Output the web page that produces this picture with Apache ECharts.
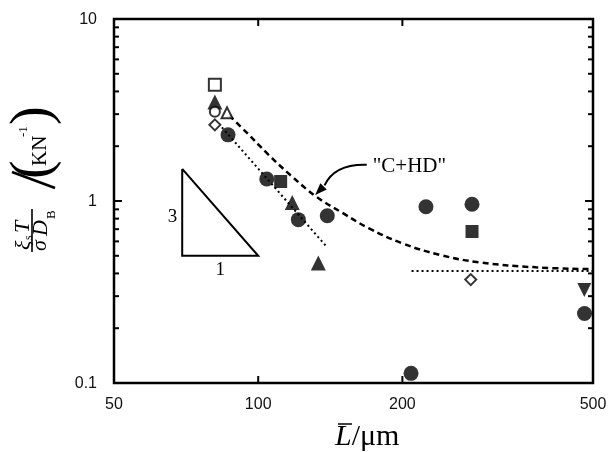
<!DOCTYPE html>
<html>
<head>
<meta charset="utf-8">
<script src="https://cdn.jsdelivr.net/npm/echarts@6/dist/echarts.min.js"></script>
<style>
  html, body { margin: 0; padding: 0; background: #fff; }
  #chart { width: 612px; height: 452px; }
</style>
</head>
<body>
<div id="chart"></div>
<script>
// Axis ranges and tick values
const xRange = [50, 500];
const yRange = [0.1, 10];
const xTicks = [50, 100, 200, 500];
const xTickLabels = ['50', '100', '200', '500'];
const yTicks = [0.1, 1, 10];
const yTickLabels = ['0.1', '1', '10'];
const yMinorTicks = [0.2, 0.3, 0.4, 0.5, 0.6, 0.7, 0.8, 0.9, 2, 3, 4, 5, 6, 7, 8, 9];

// Measured points, grouped by marker
const filledCircle = [[86.5, 2.31], [104.2, 1.32], [121.3, 0.79], [139.4, 0.83], [224, 0.93], [279.5, 0.96], [208.5, 0.113], [480, 0.241]];
const filledSquare = [[111.4, 1.28], [279.5, 0.68]];
const filledTriUp = [[81.2, 3.5], [117.8, 0.98], [133.5, 0.457]];
const filledTriDown = [[479.6, 0.324]];
const openSquare = [[81.2, 4.35]];
const openCircle = [[81.2, 3.09]];
const openTriangle = [[86.1, 3.05]];
const openDiamond = [[81.2, 2.62], [277.8, 0.37]];

// Model curves
const chdCurve = [[87, 2.95], [95, 2.35], [105, 1.8], [117, 1.38], [132, 1.06], [150, 0.86], [170, 0.71], [200, 0.585], [240, 0.505], [290, 0.46], [380, 0.432], [500, 0.422]];
const slopeLine = [[84, 2.54], [139.4, 0.556]];
const plateauLine = [[209, 0.412], [500, 0.412]];

// Slope-3 guide triangle (top, bottom-left, bottom-right)
const slopeTriangle = [[69.4, 1.5], [69.4, 0.5], [100, 0.5], [69.4, 1.5]];

// Annotation arrow for the "C+HD" curve
const arrowTail = [168.5, 1.58];
const arrowTip = [131.5, 1.08];

const serif = '"Liberation Serif", "DejaVu Serif", serif';
const sans = '"Liberation Sans", Arial, sans-serif';

const chart = echarts.init(document.getElementById('chart'), null, { renderer: 'canvas' });

function scatter(data, symbol, size, open, rotate) {
  return {
    type: 'scatter',
    data: data,
    symbol: symbol,
    symbolSize: size,
    symbolRotate: rotate || 0,
    z: 5,
    itemStyle: open
      ? { color: '#fff', borderColor: '#000', borderWidth: 2 }
      : { color: '#000', borderColor: '#000', borderWidth: 0 }
  };
}

function line(data, dash, width, smooth) {
  return {
    type: 'line',
    data: data,
    symbol: 'none',
    smooth: smooth || false,
    z: 3,
    lineStyle: { color: '#000', width: width, type: dash, cap: 'butt' }
  };
}

// Ticks, tick labels and annotations placed through the axis scales
function renderFrame(params, api) {
  const kids = [];
  const stroke = { stroke: '#000', lineWidth: 2 };
  yTicks.forEach(function (v, i) {
    const l = api.coord([xRange[0], v]);
    const r = api.coord([xRange[1], v]);
    kids.push({ type: 'line', shape: { x1: l[0], y1: l[1], x2: l[0] + 8, y2: l[1] }, style: stroke });
    kids.push({ type: 'line', shape: { x1: r[0], y1: r[1], x2: r[0] - 8, y2: r[1] }, style: stroke });
    kids.push({ type: 'text', x: l[0] - 17, y: l[1] + 1,
      style: { text: yTickLabels[i], fontSize: 16, fontFamily: sans, fill: '#111', align: 'right', verticalAlign: 'middle' } });
  });
  yMinorTicks.forEach(function (v) {
    const l = api.coord([xRange[0], v]);
    const r = api.coord([xRange[1], v]);
    kids.push({ type: 'line', shape: { x1: l[0], y1: l[1], x2: l[0] + 5, y2: l[1] }, style: stroke });
    kids.push({ type: 'line', shape: { x1: r[0], y1: r[1], x2: r[0] - 5, y2: r[1] }, style: stroke });
  });
  xTicks.forEach(function (v, i) {
    const b = api.coord([v, yRange[0]]);
    const t = api.coord([v, yRange[1]]);
    kids.push({ type: 'line', shape: { x1: b[0], y1: b[1], x2: b[0], y2: b[1] - 7 }, style: stroke });
    kids.push({ type: 'line', shape: { x1: t[0], y1: t[1], x2: t[0], y2: t[1] + 7 }, style: stroke });
    kids.push({ type: 'text', x: b[0], y: b[1] + 14,
      style: { text: xTickLabels[i], fontSize: 16, fontFamily: sans, fill: '#111', align: 'center', verticalAlign: 'top' } });
  });

  // slope triangle labels
  const pTop = api.coord(slopeTriangle[0]);
  const pBL = api.coord(slopeTriangle[1]);
  const pBR = api.coord(slopeTriangle[2]);
  kids.push({ type: 'text', x: pBL[0] - 5, y: (pTop[1] + pBL[1]) / 2 + 5,
    style: { text: '3', fontSize: 19, fontFamily: serif, fill: '#000', align: 'right', verticalAlign: 'middle' } });
  kids.push({ type: 'text', x: (pBL[0] + pBR[0]) / 2, y: pBL[1] + 5,
    style: { text: '1', fontSize: 19, fontFamily: serif, fill: '#000', align: 'center', verticalAlign: 'top' } });

  // "C+HD" arrow
  const s = api.coord(arrowTail);
  const t = api.coord(arrowTip);
  const dx = -0.7, dy = 0.714;
  const hl = 12, hw = 4.5;
  const bx = t[0] - hl * dx, by = t[1] - hl * dy;
  kids.push({ type: 'bezierCurve',
    shape: { x1: s[0], y1: s[1], cpx1: s[0] - 32, cpy1: s[1] - 1, x2: bx + 1, y2: by - 1 },
    style: { stroke: '#000', lineWidth: 2, fill: null } });
  kids.push({ type: 'polygon',
    shape: { points: [[t[0], t[1]], [bx + hw * 0.714, by + hw * 0.7], [bx - hw * 0.714, by - hw * 0.7]] },
    style: { fill: '#000' } });
  kids.push({ type: 'text', x: s[0] + 6, y: s[1] + 2,
    style: { text: '"C+HD"', fontSize: 21, fontFamily: serif, fill: '#000', align: 'left', verticalAlign: 'middle' } });

  return { type: 'group', children: kids };
}

function ytext(text, x, y, size, italic, align) {
  return { type: 'text', x: x, y: y,
    style: { text: text, fontSize: size, fontStyle: italic ? 'italic' : 'normal', fontFamily: serif, fill: '#000',
      align: align || 'left', verticalAlign: 'middle' } };
}

const option = {
  animation: false,
  backgroundColor: '#fff',
  grid: { left: 114, top: 19, right: 19, bottom: 69, show: true, borderColor: '#000', borderWidth: 2.5, backgroundColor: 'transparent' },
  xAxis: {
    type: 'log', logBase: 10, min: xRange[0], max: xRange[1],
    axisLine: { show: false }, axisTick: { show: false }, axisLabel: { show: false }, splitLine: { show: false }
  },
  yAxis: {
    type: 'log', logBase: 10, min: yRange[0], max: yRange[1],
    axisLine: { show: false }, axisTick: { show: false }, axisLabel: { show: false }, splitLine: { show: false }
  },
  graphic: [
    {
      // rotated y-axis title: (xi_s T)/(sigma D_B) / (KN^-1)
      type: 'group', x: 32, y: 252, rotation: Math.PI / 2,
      children: [
        ytext('ξ', 2, -8, 22, true),
        ytext('s', 12, -3, 12, false),
        ytext('T', 19, -9, 22, true),
        { type: 'line', shape: { x1: 0, y1: 0, x2: 43, y2: 0 }, style: { stroke: '#000', lineWidth: 1.6 } },
        ytext('σ', 1, 8, 22, true),
        ytext('D', 16, 9, 22, true),
        ytext('B', 33, 20, 13, false),
        { type: 'line', shape: { x1: 64, y1: 23, x2: 80, y2: -20 }, style: { stroke: '#000', lineWidth: 2.5 } },
        ytext('(', 73, 2, 56, false),
        ytext('KN', 86, 8, 21, false),
        ytext('-1', 115, -8, 13, false),
        ytext(')', 127, 2, 56, false)
      ]
    },
    {
      // x-axis title: mean length over micrometres
      type: 'group', x: 335, y: 437,
      children: [
        { type: 'text', x: 0, y: 0, style: { text: '{i|L}/μm', fontSize: 30, fontFamily: serif, fill: '#000', align: 'left', verticalAlign: 'middle',
          rich: { i: { fontSize: 30, fontStyle: 'italic', fontFamily: serif, fill: '#000' } } } },
        { type: 'line', shape: { x1: 3, y1: -13, x2: 17, y2: -13 }, style: { stroke: '#000', lineWidth: 1.5 } }
      ]
    }
  ],
  series: [
    line(chdCurve, [6, 4], 2.5, 0.4),
    line(slopeLine, [2, 3], 2, false),
    line(plateauLine, [2, 3], 2, false),
    {
      type: 'line', data: slopeTriangle, symbol: 'none', z: 3,
      lineStyle: { color: '#000', width: 2, join: 'miter' }
    },
    scatter(filledCircle, 'circle', 15, false),
    scatter(filledSquare, 'rect', 13, false),
    scatter(filledTriUp, 'triangle', 15, false),
    scatter(filledTriDown, 'triangle', 14, false, 180),
    scatter(openSquare, 'rect', 12, true),
    scatter(openCircle, 'circle', 10, true),
    scatter(openTriangle, 'triangle', 11, true),
    scatter(openDiamond, 'diamond', 11, true),
    {
      type: 'custom', data: [[100, 1]], clip: false, silent: true, z: 6,
      renderItem: renderFrame
    }
  ]
};

chart.setOption(option);
</script>
</body>
</html>
